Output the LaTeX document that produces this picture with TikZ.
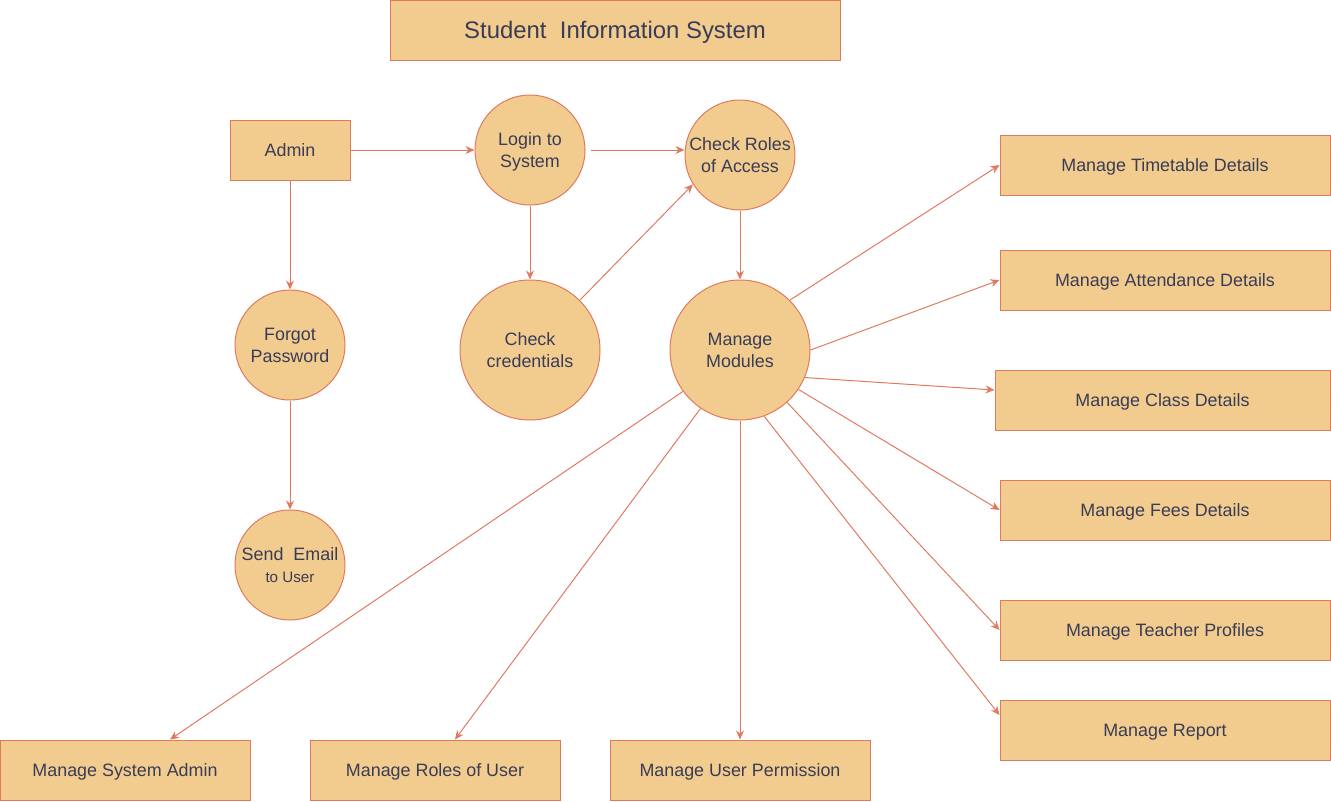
\documentclass[tikz,border=0pt]{standalone}
\usepackage{fontspec}
\setmainfont{Liberation Sans}
\usepackage{xcolor}
\definecolor{SisFill}{HTML}{F2CC8F}
\definecolor{SisLine}{HTML}{E07A5F}
\definecolor{SisText}{HTML}{393C56}
\usepackage{tikz}
\usetikzlibrary{arrows.meta,positioning}
\tikzset{
	box/.style={rectangle, draw=SisLine, fill=SisFill, line width=1pt, minimum height=60, inner sep=0pt, text depth=0pt, text=SisText, font=\fontsize{17.9}{20}\selectfont},
	proc/.style={circle, draw=SisLine, fill=SisFill, line width=1pt, inner sep=0pt, text depth=0pt, align=center, text=SisText, font=\fontsize{17.9}{22}\selectfont},
	flow/.style={draw=SisLine, line width=1pt, -{Stealth[length=9pt,width=8pt]}}
}

\begin{document}
\begin{tikzpicture}[x=1pt,y=-1pt]
		\useasboundingbox (0,0) rectangle (1331,801);
		
		% title
		\node[box, minimum width=450, font=\fontsize{23.9}{26}\selectfont] (title) at (615,30) {Student\ \ Information System};
		
		% left part
		\node[box, minimum width=120] (admin) at (290,150) {Admin};
		\node[proc, minimum size=110] (forgot) at (290,345) {Forgot\\Password};
		\node[proc, minimum size=110] (email) at (290,565) {Send\ \ Email\\{\fontsize{15.2}{18}\selectfont to User}};
		
		\node[proc, minimum size=110] (login) at (530,150) {Login to\\System};
		\node[proc, minimum size=140] (cred) at (530,350) {Check\\credentials};
		\node[proc, minimum size=110] (roles) at (740,155) {Check Roles\\of Access};
		\node[proc, minimum size=140] (modules) at (740,350) {Manage\\Modules};
		
		% right column
		\node[box, minimum width=330] (timetable) at (1165,165) {Manage Timetable Details};
		\node[box, minimum width=330] (attendance) at (1165,280) {Manage Attendance Details};
		\node[box, minimum width=335] (class) at (1162.5,400) {Manage Class Details};
		\node[box, minimum width=330] (fees) at (1165,510) {Manage Fees Details};
		\node[box, minimum width=330] (teacher) at (1165,630) {Manage Teacher Profiles};
		\node[box, minimum width=330] (report) at (1165,730) {Manage Report};
		
		% bottom row
		\node[box, minimum width=250] (sysadmin) at (125,770) {Manage System Admin};
		\node[box, minimum width=250] (userroles) at (435,770) {Manage Roles of User};
		\node[box, minimum width=260] (permission) at (740,770) {Manage User Permission};
		
		\draw[flow] (admin.east) -- (login.west);
		\draw[flow] ([xshift=5pt]login.east) -- (login.east -| roles.west);
		\draw[flow] (login.south) -- (cred.north);
		\draw[flow] (cred.45) -- (roles.212);
		\draw[flow] (roles.south) -- (modules.north);
		\draw[flow] (admin.south) -- (forgot.north);
		\draw[flow] (forgot.south) -- (email.north);
		
		\draw[flow] (modules.45) -- (timetable.west);
		\draw[flow] (modules.0) -- (attendance.west);
		\draw[flow] (modules.-23) -- ([yshift=10pt]class.west);
		\draw[flow] (modules.-34) -- (fees.west);
		\draw[flow] (modules.-48) -- (teacher.west);
		\draw[flow] (modules.-70) -- ([yshift=15pt]report.west);
		\draw[flow] (modules.south) -- (permission.north);
		\draw[flow] (modules.-124) -- ([xshift=20pt]userroles.north);
		\draw[flow] (modules.-144) -- ([xshift=45pt]sysadmin.north);
		
	\end{tikzpicture}
\end{document}
